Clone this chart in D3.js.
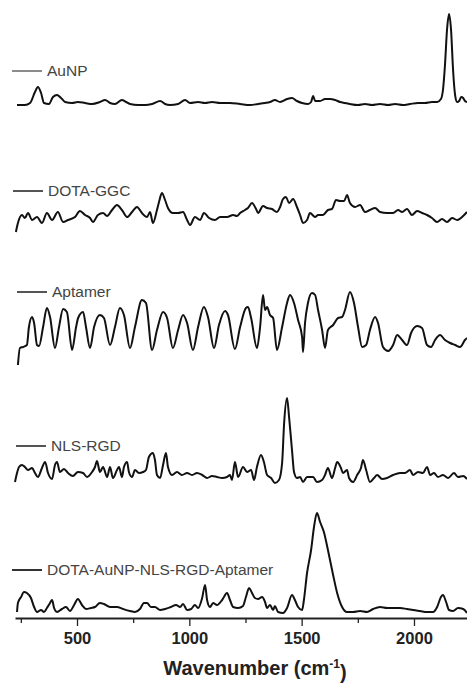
<!DOCTYPE html>
<html>
<head>
<meta charset="utf-8">
<script src="https://cdn.jsdelivr.net/npm/d3@7"></script>
<style>
  body { margin: 0; background: #fff; }
  svg { display: block; font-family: "Liberation Sans", Arial, sans-serif; }
</style>
</head>
<body>
<div id="chart"></div>
<script>
// spectra: [wavenumber (cm-1), intensity above own baseline (a.u.)]
const auNP = [
  [233,0],[268,0],[291,2],[313,13],[326,18],[340,12],[353,2],[375,1],[393,8],[411,10],
  [429,7],[447,3],[478,2],[504,3],[536,2],[567,1],[602,3],[625,5],[647,2],[669,1],
  [700,5],[718,3],[736,1],[772,0],[803,0],[834,1],[870,4],[892,1],[914,0],[950,1],
  [981,5],[1003,2],[1039,3],[1070,2],[1101,3],[1137,2],[1181,2],[1226,1],[1270,0],[1306,1],
  [1337,2],[1359,3],[1381,5],[1404,3],[1435,6],[1457,7],[1479,4],[1502,2],[1528,1],[1542,3],
  [1551,9],[1560,4],[1582,4],[1604,6],[1626,6],[1649,5],[1671,3],[1693,2],[1715,1],[1751,0],
  [1782,1],[1813,0],[1849,1],[1885,0],[1916,1],[1951,0],[1982,1],[2018,2],[2049,2],[2080,3],
  [2103,3],[2120,6],[2129,15],[2138,40],[2147,75],[2156,91],[2165,75],[2174,35],[2183,10],[2192,3],
  [2201,4],[2210,8],[2219,7],[2227,4],[2236,3]
];

const dotaGGC = [
  [228,3],[237,12],[255,20],[268,17],[282,22],[300,15],[322,18],[344,12],[366,22],[389,15],
  [415,23],[438,13],[460,15],[491,18],[513,24],[536,20],[558,17],[571,13],[593,20],[616,22],
  [634,19],[656,25],[678,30],[700,25],[723,18],[745,23],[767,28],[789,22],[812,18],[825,23],
  [838,12],[856,25],[865,33],[878,42],[892,35],[905,27],[927,22],[950,22],[972,23],[990,15],
  [1003,10],[1025,18],[1048,15],[1065,22],[1088,17],[1114,15],[1137,18],[1168,18],[1195,20],[1212,19],
  [1226,22],[1248,25],[1261,27],[1279,32],[1297,26],[1306,22],[1328,29],[1346,27],[1368,26],[1390,23],
  [1404,28],[1417,36],[1430,38],[1444,32],[1462,36],[1479,28],[1493,20],[1506,12],[1524,15],[1537,22],
  [1560,18],[1573,20],[1595,20],[1617,25],[1635,26],[1653,35],[1671,34],[1689,34],[1702,40],[1715,32],
  [1738,28],[1760,30],[1782,23],[1804,25],[1827,27],[1849,23],[1880,22],[1907,22],[1929,25],[1947,23],
  [1969,26],[1991,20],[2014,24],[2036,22],[2058,20],[2080,17],[2103,13],[2125,16],[2147,13],[2170,17],
  [2192,15],[2214,18],[2236,23]
];

const aptamer = [
  [237,0],[246,17],[260,18],[277,20],[286,38],[300,48],[309,42],[322,20],[331,19],[349,38],
  [366,57],[380,48],[402,17],[420,38],[438,56],[455,53],[478,15],[496,38],[505,47],[527,53],
  [540,38],[558,17],[576,38],[602,50],[620,47],[647,20],[669,38],[691,57],[709,50],[736,17],
  [758,38],[789,65],[807,62],[834,15],[856,35],[883,53],[901,47],[927,17],[950,35],[972,50],
  [990,42],[1016,15],[1039,38],[1065,58],[1083,48],[1110,17],[1132,40],[1159,54],[1172,50],[1203,16],
  [1226,38],[1252,57],[1261,58],[1275,47],[1301,17],[1315,38],[1328,70],[1337,55],[1346,58],[1359,50],
  [1373,47],[1390,15],[1413,38],[1435,62],[1448,70],[1466,62],[1484,45],[1502,28],[1506,13],[1515,42],
  [1528,62],[1546,72],[1560,70],[1573,55],[1591,35],[1604,17],[1617,35],[1640,40],[1662,47],[1680,48],
  [1693,55],[1715,73],[1733,62],[1751,38],[1769,18],[1787,20],[1804,35],[1827,48],[1840,42],[1862,18],
  [1885,14],[1907,20],[1925,30],[1947,25],[1969,20],[1987,32],[2014,39],[2036,37],[2058,20],[2076,18],
  [2094,25],[2116,30],[2138,25],[2161,22],[2183,20],[2205,18],[2227,25],[2236,27]
];

const nlsRGD = [
  [224,3],[233,12],[242,18],[255,20],[268,18],[282,15],[300,17],[313,12],[326,8],[344,17],
  [358,23],[371,12],[389,6],[402,20],[411,23],[424,13],[442,16],[460,12],[482,9],[504,13],
  [527,12],[545,8],[567,13],[580,18],[589,24],[602,13],[616,18],[634,8],[647,18],[660,7],
  [678,15],[687,18],[700,8],[709,18],[723,23],[731,13],[745,8],[758,15],[776,12],[794,13],
  [807,15],[820,28],[838,32],[847,25],[856,10],[870,7],[883,20],[896,32],[905,18],[923,10],
  [945,13],[967,10],[990,12],[1012,10],[1034,12],[1057,10],[1079,7],[1101,9],[1123,8],[1146,7],
  [1168,8],[1181,10],[1190,5],[1203,23],[1217,8],[1239,18],[1257,13],[1275,15],[1288,5],[1301,18],
  [1319,30],[1332,23],[1346,10],[1364,7],[1381,2],[1399,5],[1413,22],[1422,62],[1435,87],[1444,68],
  [1457,35],[1466,13],[1479,7],[1493,8],[1506,3],[1524,8],[1551,8],[1568,3],[1591,5],[1604,10],
  [1617,17],[1635,7],[1649,17],[1658,23],[1675,17],[1684,12],[1702,15],[1711,7],[1729,3],[1747,10],
  [1764,17],[1773,25],[1787,15],[1804,3],[1822,7],[1836,10],[1858,6],[1880,7],[1907,10],[1938,12],
  [1960,12],[1982,15],[1996,10],[2018,13],[2040,12],[2058,18],[2072,10],[2089,12],[2107,8],[2129,10],
  [2152,7],[2178,12],[2196,8],[2219,9],[2236,6]
];

const conjugate = [
  [233,2],[237,11],[251,17],[264,22],[277,21],[295,16],[309,7],[322,2],[340,4],[353,2],
  [366,6],[380,11],[389,14],[398,6],[411,2],[433,5],[451,7],[469,3],[487,9],[504,15],
  [522,9],[540,5],[562,6],[580,7],[602,11],[620,10],[647,7],[678,7],[705,5],[736,3],
  [758,2],[780,5],[798,11],[812,11],[829,7],[847,7],[870,4],[892,5],[918,7],[941,9],
  [959,7],[972,10],[990,4],[1008,5],[1025,9],[1039,6],[1057,16],[1070,29],[1079,14],[1092,7],
  [1106,11],[1123,9],[1146,14],[1168,21],[1181,14],[1195,7],[1217,6],[1239,8],[1252,17],[1266,26],
  [1279,21],[1292,16],[1306,15],[1324,17],[1337,12],[1346,6],[1359,9],[1373,4],[1381,8],[1395,2],
  [1417,1],[1435,6],[1457,19],[1470,14],[1484,7],[1502,4],[1510,14],[1524,41],[1542,64],[1555,87],
  [1568,101],[1582,92],[1599,82],[1617,64],[1640,39],[1658,21],[1680,7],[1702,2],[1729,2],[1760,3],
  [1791,2],[1818,5],[1849,7],[1880,6],[1907,6],[1938,6],[1969,5],[1996,4],[2027,3],[2058,2],
  [2085,2],[2103,7],[2120,17],[2129,19],[2143,12],[2156,4],[2174,3],[2196,6],[2219,5],[2236,1]
];

const names = ["AuNP", "DOTA-GGC", "Aptamer", "NLS-RGD", "DOTA-AuNP-NLS-RGD-Aptamer"];
const spectra = [auNP, dotaGGC, aptamer, nlsRGD, conjugate];
const offsets = [513, 383, 253, 133, 4];
const majorTicks = [500, 1000, 1500, 2000];
const minorTicks = [250, 750, 1250, 1750];

// layout stuff
const W = 467, H = 683;
const labelRise = [34, 44, 73, 39, 44];
const labelX = [12, 13, 17, 16, 12];
const legendColor = ["#8c8c8c", "#555", "#555", "#555", "#333"];

const svg = d3.select("#chart").append("svg")
  .attr("width", W)
  .attr("height", H);

const x = d3.scaleLinear().domain([224, 2236]).range([15, 467]);
const y = d3.scaleLinear().domain([0, 610]).range([618, 8]);

const line = d3.line()
  .x(d => x(d[0]))
  .curve(d3.curveMonotoneX);

spectra.forEach((s, i) => {
  svg.append("path")
    .datum(s)
    .attr("d", line.y(d => y(d[1] + offsets[i])))
    .attr("fill", "none")
    .attr("stroke", "#111")
    .attr("stroke-width", 2)
    .attr("stroke-linejoin", "round");

  let ly = y(offsets[i] + labelRise[i]);
  let g = svg.append("g").attr("transform", `translate(${labelX[i]},${ly})`);
  g.append("line")
    .attr("x1", 0).attr("x2", 30)
    .attr("stroke", legendColor[i])
    .attr("stroke-width", 2);
  g.append("text")
    .attr("x", 35)
    .attr("dy", "0.35em")
    .style("font-size", "15.5px")
    .style("fill", "#444")
    .text(names[i]);
});

// x axis, major + minor ticks
const axisY = y(0);
svg.append("g")
  .attr("transform", `translate(0,${axisY})`)
  .call(d3.axisBottom(x).tickValues(minorTicks).tickSize(5).tickSizeOuter(0).tickFormat(""))
  .call(g => g.select(".domain").remove())
  .call(g => g.selectAll("line").attr("stroke", "#222").attr("stroke-width", 1.3));

svg.append("g")
  .attr("transform", `translate(0,${axisY})`)
  .call(d3.axisBottom(x).tickValues(majorTicks).tickFormat(d3.format("d"))
    .tickSize(8).tickSizeOuter(0).tickPadding(6))
  .call(g => g.select(".domain").attr("stroke", "#222").attr("stroke-width", 1.8))
  .call(g => g.selectAll("line").attr("stroke", "#222").attr("stroke-width", 1.3))
  .call(g => g.selectAll("text")
    .style("font-family", "'Liberation Sans', Arial, sans-serif")
    .style("font-size", "16.5px")
    .style("font-weight", "bold")
    .style("fill", "#222"));

const title = svg.append("text")
  .attr("x", 255)
  .attr("y", 675)
  .attr("text-anchor", "middle")
  .style("font-size", "20px")
  .style("font-weight", "bold")
  .style("fill", "#222");
title.append("tspan").text("Wavenumber (cm");
title.append("tspan").attr("dy", "-0.55em").style("font-size", "12px").text("-1");
title.append("tspan").attr("dy", "0.55em").text(")");
</script>
</body>
</html>
